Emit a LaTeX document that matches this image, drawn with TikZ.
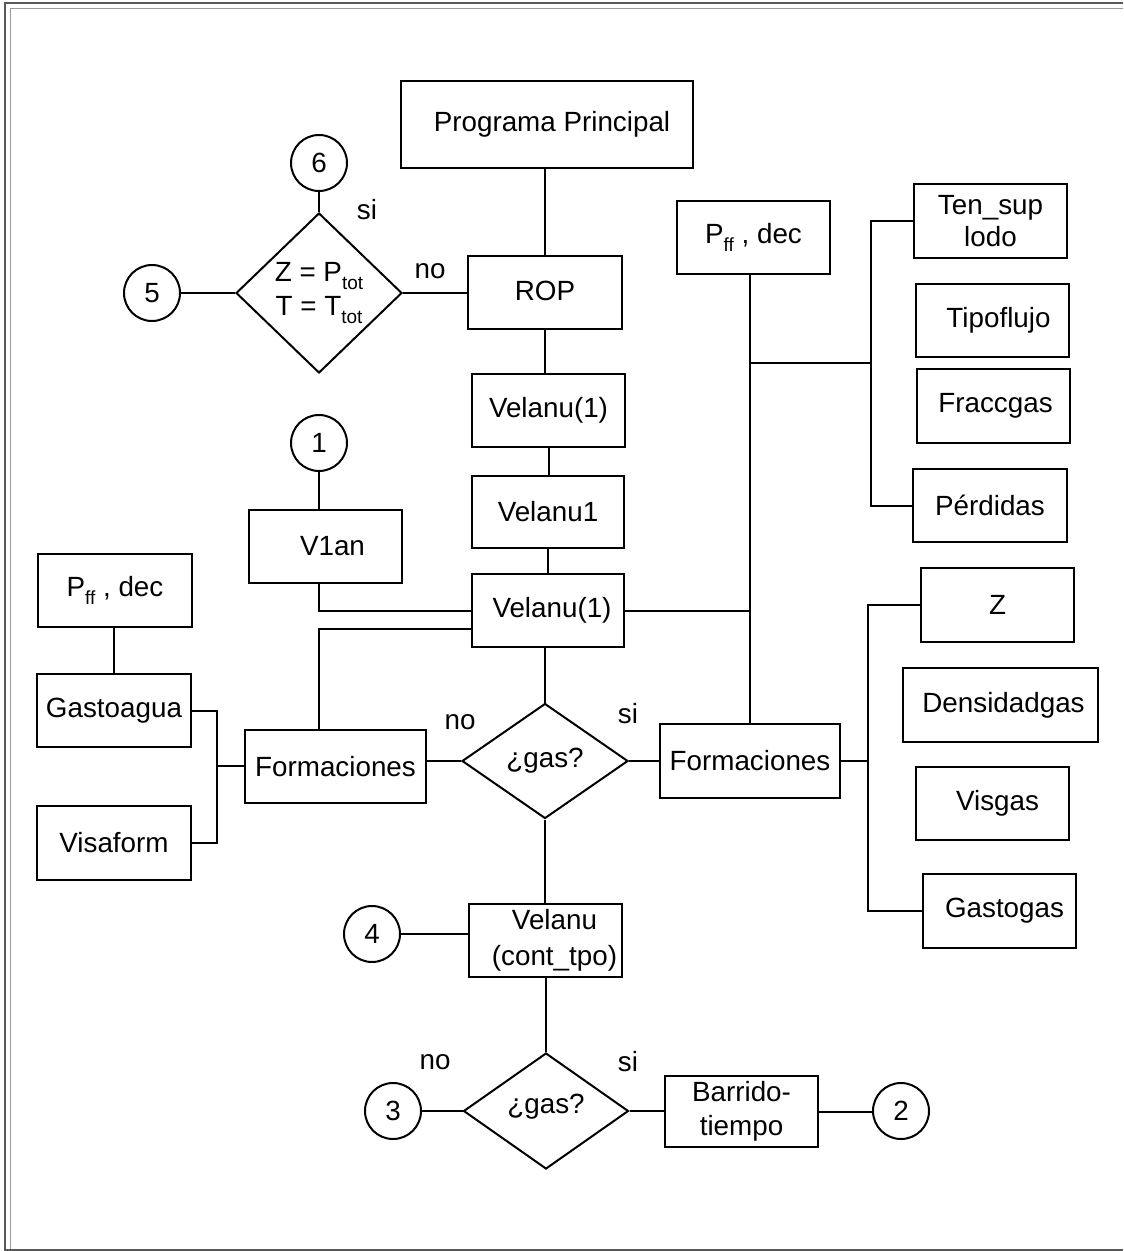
\documentclass[tikz,border=0pt]{standalone}
\usepackage{fontspec}
\setmainfont{Liberation Sans}
\usetikzlibrary{shapes.geometric}
\newcommand\lowsub[1]{\raisebox{-0.55ex}{\fontsize{9.5}{10}\selectfont #1}}
\begin{document}
\begin{tikzpicture}[x=0.5pt,y=-0.5pt,
  every node/.style={font=\fontsize{13.9}{17}\selectfont},
  box/.style={draw,line width=1pt,rectangle,inner sep=0pt,minimum width=76.5pt,minimum height=36.5pt,align=center},
  dia/.style={draw,line width=1pt,diamond,inner sep=0pt},
  conn/.style={draw,line width=1pt,circle,inner sep=0pt,minimum size=28pt},
  wire/.style={line width=1pt},
  lbl/.style={inner sep=0pt}]
\useasboundingbox (0,0) rectangle (1123,1251);
\fill[white] (0,0) rectangle (1123,1251);
% frame
\draw[line width=1pt,color=black!65] (1123,3.5) -- (4.5,3.5) -- (4.5,1249.5) -- (1123,1249.5);
\draw[line width=0.6pt,color=black!40] (1123,8.5) -- (10.5,8.5) -- (10.5,1249);

% main column
\node[box,minimum width=146pt,minimum height=43.5pt] (pp) at (547,124.5) {\raisebox{-2pt}{\hspace*{5pt}Programa Principal}};
\node[box,minimum width=77pt] (rop) at (545,292.5) {\raisebox{2pt}{ROP}};
\node[box] (va) at (548.5,410.5) {Velanu(1)};
\node[box,minimum width=76pt,minimum height=36pt] (vb) at (548,512) {Velanu1};
\node[box,minimum width=76pt] (vc) at (548,610.5) {\hspace*{4pt}Velanu(1)};
\node[box] (v1an) at (325.5,546.5) {\hspace*{7pt}V1an};

% decision Z / T
\node[dia,minimum width=83pt,minimum height=80pt,
  label={[align=center,lbl]center:Z = P\lowsub{tot}\\T = T\lowsub{tot}}] (d1) at (319,293) {};
\node[conn] (c6) at (319,163) {6};
\node[conn] (c5) at (152,293) {5};
\node[conn] (c1) at (319,443) {1};
\node[lbl] (si1) at (367,210) {si};
\node[lbl] (no1) at (430,271) {no};

% right upper group
\node[box] (pfr) at (753.5,237.5) {P\lowsub{ff} , dec};
\node[box,minimum height=37pt] (ts) at (990.5,221) {Ten\_sup\\[-1pt]lodo};
\node[box] (tf) at (992.5,320.5) {\hspace*{6pt}Tipoflujo};
\node[box,minimum height=37pt] (fg) at (993.5,406) {\hspace*{2pt}Fraccgas};
\node[box,minimum width=77pt] (pe) at (990,505.5) {Pérdidas};

% decision gas 1
\node[dia,minimum width=83pt,minimum height=57.5pt,
  label={[lbl]center:¿gas?}] (d2) at (545,761) {};
\node[lbl] (no2) at (460,722) {no};
\node[lbl] (si2) at (628,714) {si};
\node[box,minimum width=90.5pt] (fl) at (335.5,766.5) {Formaciones};
\node[box,minimum width=90pt,minimum height=37pt] (fr) at (750,761) {Formaciones};

% left group
\node[box,minimum width=77pt] (pfl) at (115,590.5) {P\lowsub{ff} , dec};
\node[box,minimum width=77pt] (ga) at (114,710.5) {Gastoagua};
\node[box,minimum width=77pt,minimum height=37pt] (vf) at (114,843) {Visaform};

% right lower group
\node[box,minimum height=37pt] (z) at (997.5,605) {\raisebox{-2pt}{Z}};
\node[box,minimum width=97.5pt,minimum height=37pt] (dg) at (1000.5,705) {\hspace*{3pt}Densidadgas};
\node[box] (vg) at (992.5,803.5) {\hspace*{5pt}Visgas};
\node[box,minimum height=37pt] (gg) at (999.5,911) {\hspace*{5pt}Gastogas};

% lower part
\node[box] (vct) at (545.5,940.5) {\hspace*{9pt}Velanu\\[1pt]\hspace*{9pt}(cont\_tpo)};
\node[conn] (c4) at (372,934) {4};
\node[dia,minimum width=82.5pt,minimum height=58pt,
  label={[lbl,yshift=2pt]center:¿gas?}] (d3) at (546,1111) {};
\node[lbl] (no3) at (435,1062) {no};
\node[lbl] (si3) at (628,1062) {si};
\node[conn] (c3) at (393,1111) {3};
\node[box,minimum height=35.5pt] (bt) at (741.5,1111.5) {Barrido-\\tiempo};
\node[conn] (c2) at (901,1111) {2};

% junction coordinates
\coordinate (j1) at (319,629);
\coordinate (bl) at (217,766);
\coordinate (br1) at (871,363);
\coordinate (br2) at (868,761);

% connectors
\draw[wire] (rop.north) -- (rop.north |- pp.south);
\draw[wire] (rop.south) -- (rop.south |- va.north);
\draw[wire] (va.south) -- (va.south |- vb.north);
\draw[wire] (vb.south) -- (vb.south |- vc.north);
\draw[wire] (d1.east) -- (d1.east -| rop.west);
\draw[wire] (c6.south) -- (d1.north);
\draw[wire] (c5.east) -- (d1.west);
\draw[wire] (c1.south) -- (c1.south |- v1an.north);
\draw[wire] (c1.south |- v1an.south) |- (vc.west);
\draw[wire] (vc.west |- j1) -- (j1) -- (j1 |- fl.north);
\draw[wire] (d2.north) -- (d2.north |- vc.south);
\draw[wire] (d2.west) -- (d2.west -| fl.east);
\draw[wire] (d2.east) -- (d2.east -| fr.west);
\draw[wire] (d2.south) -- (d2.south |- vct.north);
\draw[wire] (c4.east) -- (c4.east -| vct.west);
\draw[wire] (d3.north) -- (d3.north |- vct.south);
\draw[wire] (c3.east) -- (d3.west);
\draw[wire] (d3.east) -- (d3.east -| bt.west);
\draw[wire] (bt.east) -- (bt.east -| c2.west);
% left group
\draw[wire] (pfl.south -| ga.north) -- (ga.north);
\draw[wire] (ga.east) -| (bl) |- (vf.east);
\draw[wire] (fl.west |- bl) -- (bl);
% right upper group
\draw[wire] (fr.north) -- (fr.north |- pfr.south);
\draw[wire] (vc.east) -- (vc.east -| fr.north);
\draw[wire] (br1 -| fr.north) -- (br1);
\draw[wire] (ts.west) -| (br1) |- (pe.west);
% right lower group
\draw[wire] (fr.east |- br2) -- (br2);
\draw[wire] (z.west) -| (br2) |- (gg.west);
\end{tikzpicture}
\end{document}
